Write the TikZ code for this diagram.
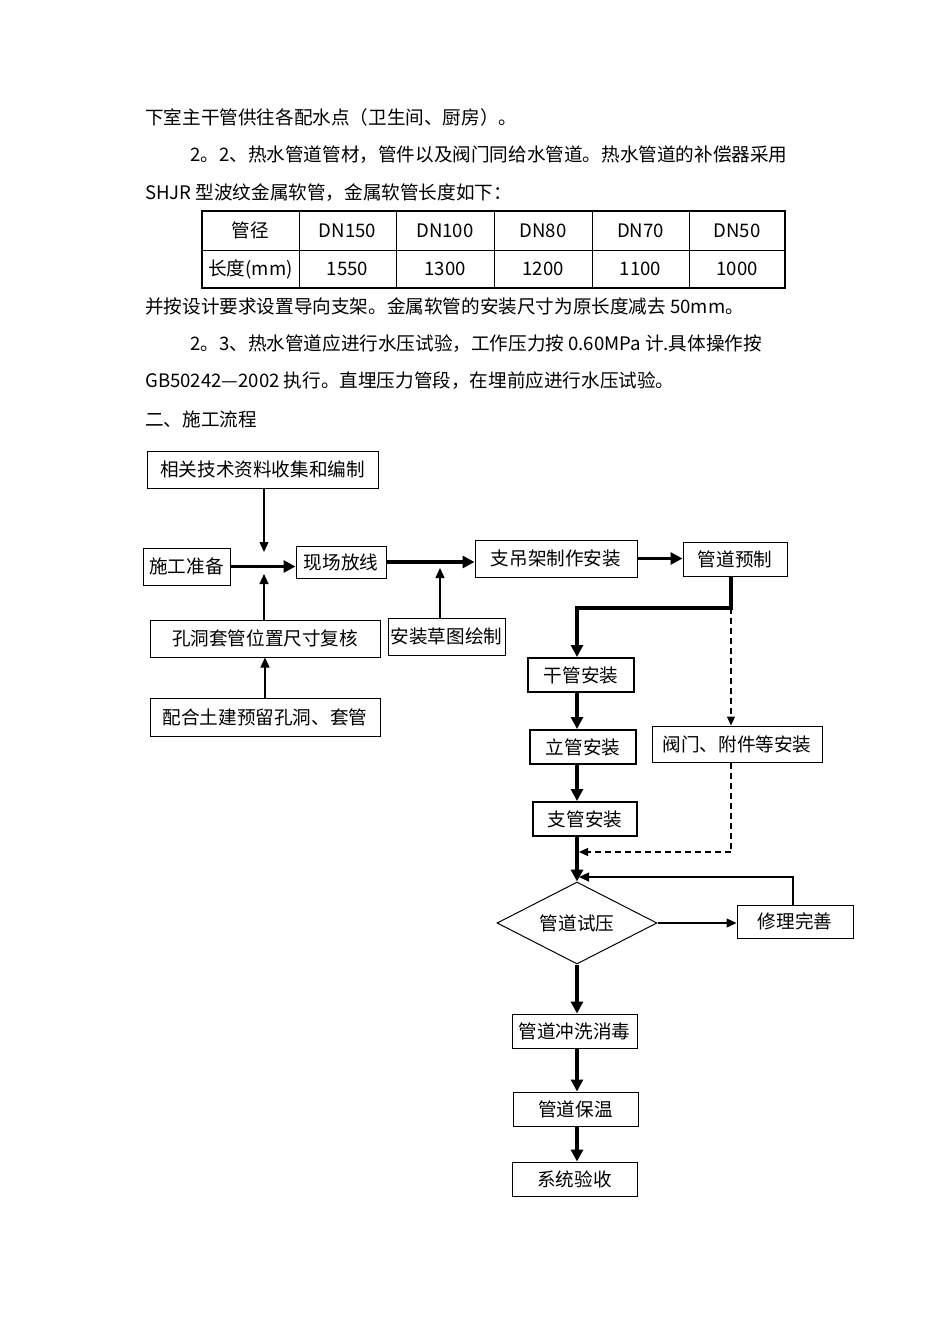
\documentclass[tikz,border=0pt]{standalone}
\usepackage{fontspec}
\setmainfont{Noto Sans CJK SC}
\usetikzlibrary{arrows.meta,shapes.geometric}

\begin{document}
\begin{tikzpicture}[x=1pt,y=-1pt,font=\fontsize{18.6}{20}\selectfont,
  box/.style={draw=black,line width=1pt,inner sep=0pt},
  mainbox/.style={box,line width=2pt},
  flow/.style={line width=3.2pt,-{Triangle[length=12pt,width=12pt]}},
  link/.style={line width=1.2pt,-{Triangle[length=10pt,width=9pt]}},
  dashlink/.style={line width=1.1pt,dash pattern=on 6pt off 4pt,-{Triangle[length=9pt,width=8pt]}}]
   \useasboundingbox[fill=white] (0,0) rectangle (950,1344);
   \begin{scope}[every node/.style={anchor=west,inner sep=0pt}]
    \node (l1) at (145,117) {下室主干管供往各配水点（卫生间、厨房）。};
    \node (l2) at (190,155) {2。2、热水管道管材，管件以及阀门同给水管道。热水管道的补偿器采用};
    \node (l3) at (145,193) {SHJR 型波纹金属软管，金属软管长度如下：};
    \node (l4) at (145,306) {并按设计要求设置导向支架。金属软管的安装尺寸为原长度减去 50mm。};
    \node (l5) at (190,344) {2。3、热水管道应进行水压试验，工作压力按 0.60MPa 计.具体操作按};
    \node (l6) at (145,381) {GB50242—2002 执行。直埋压力管段，在埋前应进行水压试验。};
    \node (l7) at (145,419) {二、施工流程};
   \end{scope}
   \draw[line width=1.2pt] (202,211) rectangle (785,288);
   \draw[line width=1pt] (202,250) -- (785,250);
   \foreach \x in {299,396,494,592,689}
    \draw[line width=1pt] (\x,211) -- (\x,288);
   \foreach \cx/\hd/\len in {250.5/管径/长度(mm),347.5/DN150/1550,445/DN100/1300,543/DN80/1200,640.5/DN70/1100,737/DN50/1000}{
    \node at (\cx,230.5) {\hd};
    \node at (\cx,269) {\len};
   }
   \begin{scope}[every node/.style={box}]
    \node[minimum width=231pt,minimum height=37pt] (ziliao) at (262.5,469.5) {相关技术资料收集和编制};
    \node[minimum width=87pt,minimum height=37pt] (zhunbei) at (186.5,566.5) {施工准备};
    \node[minimum width=90pt,minimum height=32pt] (fangxian) at (341,562) {现场放线};
    \node[minimum width=162pt,minimum height=37pt] (zhijia) at (556,558.5) {支吊架制作安装};
    \node[minimum width=104pt,minimum height=34pt] (yuzhi) at (735,559) {管道预制};
    \node[minimum width=230pt,minimum height=37pt] (fuhe) at (265,638.5) {孔洞套管位置尺寸复核};
    \node[minimum width=117pt,minimum height=37pt] (caotu) at (446.5,636.5) {安装草图绘制};
    \node[minimum width=230pt,minimum height=38pt] (yuliu) at (265,717) {配合土建预留孔洞、套管};
    \node[mainbox,minimum width=106pt,minimum height=34pt] (ganguan) at (581,675) {干管安装};
    \node[mainbox,minimum width=106pt,minimum height=34pt] (liguan) at (583,747) {立管安装};
    \node[minimum width=170pt,minimum height=36pt] (famen) at (737,744) {阀门、附件等安装};
    \node[mainbox,minimum width=104pt,minimum height=34pt] (zhiguan) at (585,819) {支管安装};
    \node[diamond,aspect=1.95,minimum width=160pt,minimum height=82pt] (shiya) at (577,923) {管道试压};
    \node[minimum width=116pt,minimum height=33pt] (xiuli) at (795,921.5) {修理完善};
    \node[minimum width=125pt,minimum height=34pt] (chongxi) at (574.5,1031) {管道冲洗消毒};
    \node[minimum width=125pt,minimum height=34pt] (baowen) at (575.5,1109) {管道保温};
    \node[minimum width=125pt,minimum height=34pt] (yanshou) at (574.5,1179) {系统验收};
   \end{scope}
   \coordinate (hubN) at (264,552);
   \coordinate (hubS) at (264,574);
   \coordinate (cao) at (440,568);
   \coordinate (split) at (731,608);
   \coordinate (bend) at (577,608);
   \coordinate (merge) at (731,852);
   \coordinate (back) at (793,877);
   \draw[link] (ziliao.south -| hubN) -- (hubN);
   \draw[link] (fuhe.north -| hubS) -- (hubS);
   \draw[link] (yuliu.north) -- (fuhe.south);
   \draw[link] (caotu.north -| cao) -- (cao);
   \draw[flow] (zhunbei.east) -- (zhunbei.east -| fangxian.west);
   \draw[flow] (fangxian.east) -- (fangxian.east -| zhijia.west);
   \draw[flow] (zhijia.east) -- (zhijia.east -| yuzhi.west);
   \draw[flow] (yuzhi.south -| split) -- (split) -- (bend) -- (bend |- ganguan.north);
   \draw[dashlink] (split) -- (split |- famen.north);
   \draw[flow] (ganguan.south -| bend) -- (liguan.north -| bend);
   \draw[flow] (liguan.south -| bend) -- (zhiguan.north -| bend);
   \draw[flow] (zhiguan.south -| bend) -- (shiya.north);
   \draw[dashlink] (famen.south -| merge) -- (merge) -- ([xshift=2pt]merge -| bend);
   \draw[link] (xiuli.north -| back) -- (back) -- ([xshift=2pt]back -| bend);
   \draw[link] (shiya.east) -- (shiya.east -| xiuli.west);
   \draw[flow] (shiya.south) -- (chongxi.north -| shiya.south);
   \draw[flow] (chongxi.south -| shiya.south) -- (baowen.north -| shiya.south);
   \draw[flow] (baowen.south -| shiya.south) -- (yanshou.north -| shiya.south);
\end{tikzpicture}
\end{document}
